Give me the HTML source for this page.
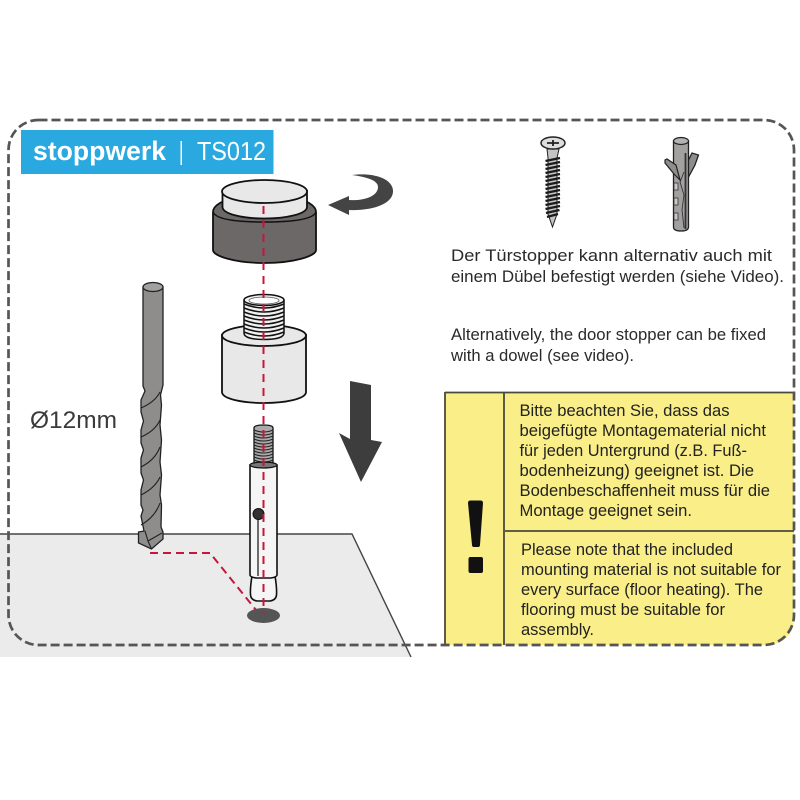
<!DOCTYPE html>
<html>
<head>
<meta charset="utf-8">
<style>
html,body{margin:0;padding:0;background:#fff;width:800px;height:800px;overflow:hidden}
svg{display:block}
text{font-family:"Liberation Sans",sans-serif}
.t{font-size:17px;fill:#2a2a2a}
.y{font-size:17px;fill:#222}
</style>
</head>
<body>
<svg width="800" height="800" viewBox="0 0 800 800">
<rect width="800" height="800" fill="#fff"/>

<!-- floor -->
<polygon points="0,534 352,534 411,657 0,657" fill="#ebebeb"/>
<path d="M0,534H352L411,657" fill="none" stroke="#444" stroke-width="1.400"/>

<!-- yellow box -->
<path d="M445,393H794V615Q794,645 764,645H445Z" fill="#f9ee88"/>
<path d="M445,392.500H794M445,392V645M504,393V645M505,531H794" fill="none" stroke="#4a4a3a" stroke-width="1.800"/>
<path d="M468,503 Q468,500.500 470.500,500.500 H480.500 Q483,500.500 483,503 L480,545 Q480,547 478,547 H474 Q472,547 472,545 Z" fill="#111"/>
<rect x="468.500" y="557" width="14.500" height="16" rx="2" fill="#111"/>

<!-- dashed outline -->
<rect x="8.500" y="120" width="785.500" height="525" rx="30" ry="30" fill="none" stroke="#555" stroke-width="2.700" stroke-dasharray="9 4"/>

<!-- header label -->
<rect x="21" y="130" width="252.500" height="44" fill="#29a9e0"/>
<text x="33" y="160" font-size="27" font-weight="bold" fill="#fff" textLength="133" lengthAdjust="spacingAndGlyphs">stoppwerk</text>
<rect x="180.500" y="141" width="1.500" height="24" fill="#fff"/>
<text x="197" y="160" font-size="26" fill="#fff" textLength="69" lengthAdjust="spacingAndGlyphs">TS012</text>

<!-- cap -->
<path d="M213,212 V250 C213,256 235,263 264.500,263 C294,263 316,256 316,250 V212 C316,205 305,200 295,198 H234 C224,200 213,205 213,212Z" fill="#6d6868" stroke="#111" stroke-width="1.800"/>
<path d="M213,212 C216,220 240,222 264.500,222 C290,222 313,220 316,212" fill="none" stroke="#111" stroke-width="1.500"/>
<path d="M222.500,191 V207 C222.500,214 243,218.500 264.500,218.500 C286,218.500 307,214 307,207 V191Z" fill="#e8e8e8" stroke="#111" stroke-width="1.800"/>
<ellipse cx="264.500" cy="191.500" rx="42.500" ry="11.500" fill="#e8e8e8" stroke="#111" stroke-width="1.800"/>

<!-- curved arrow -->
<path d="M328,205 L349,196 V200 C362,201 378,197 378,187 C378,180 366,177 352,175 C376,172 394,180 393,192 C392,205 370,211 349,210 V215Z" fill="#444"/>

<!-- cylinder -->
<path d="M222,335 V392 C222,399 243,403 264,403 C285,403 306,399 306,392 V335Z" fill="#e8e8e8" stroke="#111" stroke-width="1.800"/>
<ellipse cx="264" cy="335.500" rx="42" ry="10.500" fill="#e8e8e8" stroke="#111" stroke-width="1.800"/>
<!-- thread top -->
<path d="M244,300 V333 C244,338 254,339.500 264,339.500 C274,339.500 284,338 284,333 V300Z" fill="#f0f0f0" stroke="#111" stroke-width="1.500"/>
<g fill="none" stroke="#111" stroke-width="1.500">
<path d="M244,304 Q264,312 284,304"/>
<path d="M244,308 Q264,316 284,308"/>
<path d="M244,312 Q264,320 284,312"/>
<path d="M244,316 Q264,324 284,316"/>
<path d="M244,320 Q264,328 284,320"/>
<path d="M244,324 Q264,332 284,324"/>
<path d="M244,328 Q264,336 284,328"/>
<path d="M244,332 Q264,340 284,332"/>
</g>
<ellipse cx="264" cy="300" rx="20" ry="5.500" fill="#f2f2f2" stroke="#111" stroke-width="1.500"/>
<ellipse cx="264" cy="300.500" rx="15" ry="3.500" fill="#fff" stroke="#555" stroke-width="0.800"/>

<!-- drill -->
<path d="M143,287 V386 L145,391 L141,400 V412 L143.500,421 L141,430 V443 L143.500,450 L141,458 V473 L143.500,480 L141,490 V505 L143,510 L141,516 L144,531 L138.500,532 V543 L151.500,549 L163,539 V532 L161,527 L161.500,505 L160,495 L161.500,475 L160,462 L161.500,440 L160,425 L161.500,405 L160.500,395 L163,385 V287Z" fill="#8f8c8c" stroke="#222" stroke-width="1.300"/>
<ellipse cx="153" cy="287" rx="10" ry="4.500" fill="#a3a0a0" stroke="#222" stroke-width="1.300"/>
<g fill="none" stroke="#222" stroke-width="1.100">
<path d="M141,408 Q155,402 160,392"/>
<path d="M141,437 Q155,431 160,420"/>
<path d="M141,467 Q155,460 160,447"/>
<path d="M141,495 Q155,488 160,477"/>
<path d="M141,525 Q155,517 160,503"/>
<path d="M145,531 L148,541 L151.500,549 M148,541 L162,533"/>
</g>
<text x="30" y="428" font-size="24.500" fill="#3a3a3a" textLength="87" lengthAdjust="spacingAndGlyphs">Ø12mm</text>

<!-- hole -->
<ellipse cx="263.500" cy="615.500" rx="16.500" ry="7.500" fill="#555"/>

<!-- anchor -->
<path d="M252,576 Q250,588 250.500,595 Q251,600 257,601 H270 Q276,600 276.500,595 Q277,588 275,576Z" fill="#f5f5f5" stroke="#111" stroke-width="1.600"/>
<path d="M250,465 V575 Q250,577 256,578 H271 Q277,577 277,575 V465Z" fill="#f5f5f5" stroke="#111" stroke-width="1.600"/>
<path d="M254,428 Q254,425 263.500,425 Q273,425 273,428 V466 H254Z" fill="#aaa" stroke="#111" stroke-width="1.300"/>
<g fill="none" stroke="#222" stroke-width="1.100">
<path d="M254,430 Q264,434 273,430"/><path d="M254,433 Q264,437 273,433"/><path d="M254,436 Q264,440 273,436"/><path d="M254,439 Q264,443 273,439"/><path d="M254,442 Q264,446 273,442"/><path d="M254,445 Q264,449 273,445"/><path d="M254,448 Q264,452 273,448"/><path d="M254,451 Q264,455 273,451"/><path d="M254,454 Q264,458 273,454"/><path d="M254,457 Q264,461 273,457"/><path d="M254,460 Q264,464 273,460"/>
</g>
<ellipse cx="263.500" cy="465" rx="13.500" ry="3" fill="#777" stroke="#111" stroke-width="1.200"/>
<path d="M258,518 V576" stroke="#111" stroke-width="1.200" fill="none"/>
<circle cx="258.500" cy="514" r="5.500" fill="#333" stroke="#111" stroke-width="1"/>

<!-- red dashed -->
<path d="M263.500,206 V613" fill="none" stroke="#c8163a" stroke-width="2" stroke-dasharray="8 6"/>
<path d="M150,553 H210 L256,610" fill="none" stroke="#c8163a" stroke-width="2" stroke-dasharray="8 5"/>

<!-- down arrow -->
<polygon points="350,381 371,385 371,440 382,442 361,482 339,433 350,439" fill="#3d3d3d"/>

<!-- screw -->
<path d="M547,149 H559 L557,158 V214 L552.500,227 L548,214 V158Z" fill="#c4c4c4" stroke="#222" stroke-width="1"/>
<g stroke="#1c1c1c" stroke-width="2.300" fill="none">
<path d="M545.500,161 L560,158"/><path d="M545.500,165 L560,162"/><path d="M545.500,169 L560,166"/><path d="M545.500,173 L560,170"/><path d="M545.500,177 L560,174"/><path d="M545.500,181 L560,178"/><path d="M545.500,185 L560,182"/><path d="M545.500,189 L560,186"/><path d="M545.500,193 L560,190"/><path d="M545.500,197 L560,194"/><path d="M545.500,201 L560,198"/><path d="M545.500,205 L560,202"/><path d="M545.500,209 L560,206"/><path d="M546,213 L559.500,210"/><path d="M547,217 L558,214"/>
</g>
<ellipse cx="553" cy="143" rx="12" ry="6" fill="#ddd" stroke="#222" stroke-width="1.500"/>
<path d="M547,143 H559 M553,140 V146" stroke="#222" stroke-width="1.800" fill="none"/>

<!-- dowel -->
<path d="M687,163 L692,153 L698.500,155 L695,165 L688,178Z" fill="#8f8c8c" stroke="#222" stroke-width="1.300"/>
<path d="M673.500,141 V227 Q673.500,231 681,231 Q688.500,231 688.500,227 V141Z" fill="#a3a0a0" stroke="#222" stroke-width="1.300"/>
<ellipse cx="681" cy="141" rx="7.500" ry="3.500" fill="#b5b2b2" stroke="#222" stroke-width="1.200"/>
<path d="M665,160 L665,163 L674,174 L680,180 L676,165 L667,159Z" fill="#8f8c8c" stroke="#222" stroke-width="1.200"/>
<path d="M685.500,153 V229" stroke="#333" stroke-width="1.800" fill="none"/>
<path d="M684,172 L680,182 L684,195 L682,210 L684,228" stroke="#333" stroke-width="0.900" fill="none"/>
<g fill="#c8c8c8" stroke="#333" stroke-width="0.800">
<rect x="674" y="183" width="4" height="7"/><rect x="674" y="198" width="4" height="7"/><rect x="674" y="213" width="4" height="7"/>
</g>

<!-- instructions -->
<text class="t" x="451" y="261" textLength="321" lengthAdjust="spacingAndGlyphs">Der Türstopper kann alternativ auch mit</text>
<text class="t" x="451" y="282" textLength="333" lengthAdjust="spacingAndGlyphs">einem Dübel befestigt werden (siehe Video).</text>
<text class="t" x="451" y="340" textLength="315" lengthAdjust="spacingAndGlyphs">Alternatively, the door stopper can be fixed</text>
<text class="t" x="451" y="361" textLength="183" lengthAdjust="spacingAndGlyphs">with a dowel (see video).</text>

<!-- warning text -->
<text class="y" x="519.500" y="416" textLength="210" lengthAdjust="spacingAndGlyphs">Bitte beachten Sie, dass das</text>
<text class="y" x="519.500" y="436" textLength="246.500" lengthAdjust="spacingAndGlyphs">beigefügte Montagematerial nicht</text>
<text class="y" x="519.500" y="456" textLength="227.500" lengthAdjust="spacingAndGlyphs">für jeden Untergrund (z.B. Fuß-</text>
<text class="y" x="519.500" y="476" textLength="234.500" lengthAdjust="spacingAndGlyphs">bodenheizung) geeignet ist. Die</text>
<text class="y" x="519.500" y="496" textLength="250.500" lengthAdjust="spacingAndGlyphs">Bodenbeschaffenheit muss für die</text>
<text class="y" x="519.500" y="516" textLength="172.500" lengthAdjust="spacingAndGlyphs">Montage geeignet sein.</text>
<text class="y" x="521" y="555" textLength="212" lengthAdjust="spacingAndGlyphs">Please note that the included</text>
<text class="y" x="521" y="575" textLength="260" lengthAdjust="spacingAndGlyphs">mounting material is not suitable for</text>
<text class="y" x="521" y="595" textLength="242" lengthAdjust="spacingAndGlyphs">every surface (floor heating). The</text>
<text class="y" x="521" y="615" textLength="204" lengthAdjust="spacingAndGlyphs">flooring must be suitable for</text>
<text class="y" x="521" y="635" textLength="73" lengthAdjust="spacingAndGlyphs">assembly.</text>
</svg>
</body>
</html>
